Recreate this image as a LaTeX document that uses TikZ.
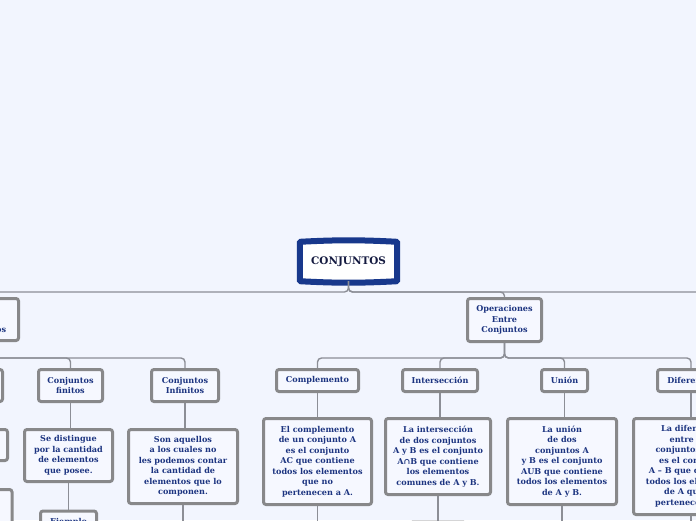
\documentclass[tikz,border=0pt]{standalone}
\usepackage{fontspec}
\setmainfont{DejaVu Serif}
\usetikzlibrary{positioning,backgrounds}
\definecolor{paper}{RGB}{242,245,254}
\definecolor{boxfill}{RGB}{246,248,255}
\definecolor{boxline}{RGB}{136,136,138}
\definecolor{inktext}{RGB}{28,52,128}
\definecolor{rootline}{RGB}{24,56,140}
\definecolor{rootink}{RGB}{20,26,64}
\definecolor{linkcol}{RGB}{140,142,150}

\begin{document}
\begin{tikzpicture}[
      x=1pt, y=-1pt,
      font={\fontsize{8.1}{10.5}\selectfont\bfseries},
      topic/.style={draw=boxline, line width=3pt, rounded corners=2.5pt,
                    fill=boxfill, text=inktext, align=center, inner sep=0pt},
      link/.style={draw=linkcol, line width=1.4pt, rounded corners=4pt}
    ]
    \useasboundingbox (0,0) rectangle (696,520);
    \clip (0,0) rectangle (696,520);

    % main topic
    \node[minimum width=97pt, minimum height=39pt, text=rootink,
          font={\fontsize{10.4}{12}\selectfont\bfseries}]
      (root) at (348.5,261.5) {CONJUNTOS};

    % first level
    \node[topic, minimum width=71pt, minimum height=42pt]
      (tipos) at (-17,319.5) {Tipos\\de\\Conjuntos};
    \node[topic, minimum width=74pt, minimum height=43pt]
      (ops) at (504.5,320) {Operaciones\\Entre\\Conjuntos};

    % left branch
    \node[topic, minimum width=65pt, minimum height=32pt] (lc1) at (-30,385.5) {};
    \node[topic, minimum width=95pt, minimum height=31pt] (lc2) at (-40,445) {};
    \node[topic, minimum width=104pt, minimum height=50pt] (lc3) at (-40,514.5) {};
    \node[topic, minimum width=64pt, minimum height=32pt]
      (finitos) at (70.5,385.5) {Conjuntos\\finitos};
    \node[topic, minimum width=67pt, minimum height=32pt]
      (infinitos) at (185,385.5) {Conjuntos\\Infinitos};
    \node[topic, minimum width=88pt, minimum height=52pt]
      (distingue) at (68.5,455.5) {Se distingue\\por la cantidad\\de elementos\\que posee.};
    \node[topic, minimum width=109pt, minimum height=74pt]
      (aquellos) at (183,466.5) {Son aquellos\\a los cuales no\\les podemos contar\\la cantidad de\\elementos que lo\\componen.};
    \node[topic, anchor=north, minimum width=56pt, inner ysep=7pt]
      (ejemplo) at (68.5,509.5) {Ejemplo};

    % operations branch
    \node[topic, minimum width=82pt, minimum height=22pt]
      (comp) at (317.5,380.5) {Complemento};
    \node[topic, minimum width=75pt, minimum height=22pt]
      (inter) at (440,380.5) {Intersección};
    \node[topic, minimum width=46pt, minimum height=22pt]
      (union) at (564.5,380.5) {Unión};
    \node[topic, minimum width=67pt, minimum height=22pt]
      (dif) at (691,380.5) {Diferencia};

    \node[topic, minimum width=108pt, minimum height=86pt]
      (compText) at (317.5,461.5) {El complemento\\de un conjunto A\\es el conjunto\\AC que contiene\\todos los elementos\\que no\\pertenecen a A.};
    \node[topic, minimum width=105pt, minimum height=76pt]
      (interText) at (438,456.5) {La intersección\\de dos conjuntos\\A y B es el conjunto\\A∩B que contiene\\los elementos\\comunes de A y B.};
    \node[topic, minimum width=109pt, minimum height=86pt]
      (unionText) at (562,461.5) {La unión\\de dos\\conjuntos A\\y B es el conjunto\\AUB que contiene\\todos los elementos\\de A y B.};
    \node[topic, minimum width=115pt, minimum height=96pt]
      (difText) at (691,466.5) {La diferencia\\entre dos\\conjuntos A y B\\es el conjunto\\A – B que contiene\\todos los elementos\\de A que no\\pertenecen a B.};
    \node[topic, anchor=north, minimum width=55pt, minimum height=30pt]
      (interMore) at (438,520.5) {};

    % buses and loose ends
    \coordinate (rbus) at (0,292);
    \coordinate (lbus) at (0,358);
    \coordinate (obus) at (0,358);
    \coordinate (rout) at (720,292);
    \coordinate (down) at (0,540);

    % root outline, top and bottom slightly curved
    \begin{scope}[on background layer]
      \fill[paper] (0,0) rectangle (696,520);
      \draw[rootline, line width=6pt, fill=white, rounded corners=1pt]
        (root.north west) to[bend left=3] (root.north east)
        -- (root.south east) to[bend left=3] (root.south west) -- cycle;
    \end{scope}

    \foreach \kid in {tipos, ops}
      \draw[link] (root.south) |- (\kid.north |- rbus) -- (\kid.north);
    \draw[link] (root.south) |- (rout);

    \foreach \kid in {lc1, finitos, infinitos}
      \draw[link] (tipos.south) |- (\kid.north |- lbus) -- (\kid.north);

    \foreach \kid in {comp, inter, union, dif}
      \draw[link] (ops.south) |- (\kid.north |- obus) -- (\kid.north);

    \foreach \a/\b in {finitos/distingue, infinitos/aquellos,
                       distingue/ejemplo, comp/compText, inter/interText,
                       union/unionText, dif/difText, interText/interMore}
      \draw[link] (\a.south) -- (\a.south |- \b.north);

    \foreach \a in {aquellos, compText, unionText, difText}
      \draw[link] (\a.south) -- (\a.south |- down);
  \end{tikzpicture}
\end{document}
